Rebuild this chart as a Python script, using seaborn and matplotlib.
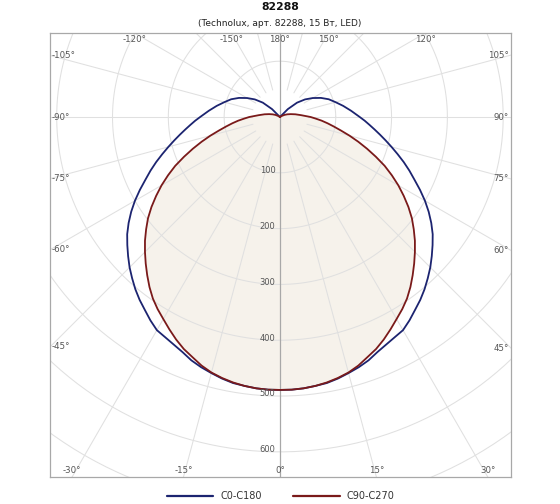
import numpy as np
import pandas as pd
import matplotlib
matplotlib.use("Agg")
import matplotlib.pyplot as plt
import seaborn as sns

# ------------------------------------------------------------------
# Data: luminous intensity (cd) vs gamma angle (deg)
# ------------------------------------------------------------------
gamma = np.array([0, 2.5, 5, 7.5, 10, 12.5, 15, 17.5, 20, 22.5, 25, 27.5,
                  30, 32.5, 35, 37.5, 40, 42.5, 45, 47.5, 50, 52.5, 55, 57.5,
                  60, 62.5, 65, 67.5, 70, 72.5, 75, 77.5, 80, 82.5, 85, 87.5,
                  90, 95, 100, 105, 110, 115, 120, 125, 130, 135, 140, 150,
                  160, 170, 180])

c0_c180 = [489, 489, 488, 486, 484, 480, 475, 470, 464, 456, 450, 445,
           441, 432, 422, 413, 403, 392, 381, 369, 357, 345, 331, 316,
           300, 283, 266, 251, 236, 221, 207, 194, 182, 171, 161, 152,
           143, 128, 115, 103, 93, 81, 68, 55, 40, 20, 0, 0,
           0, 0, 0]

c90_c270 = [489, 489, 488, 486, 483, 479, 474, 467, 458, 450, 440, 429,
            418, 408, 397, 384, 370, 356, 342, 328, 313, 298, 281, 263,
            245, 226, 207, 186, 166, 147, 129, 112, 98, 86, 75, 64,
            55, 38, 28, 20, 14, 9, 4, 0, 0, 0, 0, 0,
            0, 0, 0]

series_names = ["C0-C180", "C90-C270"]
series_colors = {"C0-C180": "#1c2470", "C90-C270": "#7a1a1a"}

radial_ticks = [100, 200, 300, 400, 500, 600]
title = "82288"
subtitle = "(Technolux, арт. 82288, 15 Вт, LED)"

# angle labels shown along the frame
angle_labels = [-30, -15, 0, 15, 30, -45, -60, -75, -90, -105,
                45, 60, 75, 90, 105, -120, -150, 180, 150, 120]

# ------------------------------------------------------------------
# Build polar -> cartesian table
# ------------------------------------------------------------------
def to_xy(vals):
    vals = np.asarray(vals, dtype=float)
    th = np.concatenate([-gamma[::-1], gamma[1:]])
    r = np.concatenate([vals[::-1], vals[1:]])
    t = np.deg2rad(th)
    return r * np.sin(t), -r * np.cos(t)

rows = []
for name, vals in zip(series_names, [c0_c180, c90_c270]):
    x, y = to_xy(vals)
    rows.append(pd.DataFrame({"x": x, "y": y, "curve": name}))
df = pd.concat(rows, ignore_index=True)

# ------------------------------------------------------------------
# Figure
# ------------------------------------------------------------------
sns.set_style("white")
plt.rcParams["font.family"] = ["DejaVu Sans"]

fig = plt.figure(figsize=(5.6, 5.04), dpi=100)
ax = fig.add_axes([50 / 560, 1 - 477 / 504, 461 / 560, 444 / 504])

xmin, xmax = -412, 414
ymin, ymax = -645, 150.5
ax.set_xlim(xmin, xmax)
ax.set_ylim(ymin, ymax)
ax.set_aspect("equal")
ax.set_xticks([])
ax.set_yticks([])
for s in ax.spines.values():
    s.set_color("#a8a8a8")
    s.set_linewidth(0.9)

grid_col = "#e0e0e0"
# circles
tt = np.linspace(0, 2 * np.pi, 400)
for r in range(100, 900, 100):
    ax.plot(r * np.cos(tt), r * np.sin(tt), color=grid_col, lw=0.75, zorder=1)
# rays
for a in range(-180, 180, 15):
    if a in (0, -180):
        continue
    t = np.deg2rad(a)
    ax.plot([50 * np.sin(t), 1000 * np.sin(t)], [-50 * np.cos(t), -1000 * np.cos(t)],
            color=grid_col, lw=0.75, zorder=1)
ax.axvline(0, color="#a8a8a8", lw=0.9, zorder=2)

# fill of C90-C270
fx, fy = to_xy(c90_c270)
ax.fill(fx, fy, color="#f6f2eb", zorder=0.5, lw=0)

sns.lineplot(data=df, x="x", y="y", hue="curve", palette=series_colors,
             sort=False, estimator=None, lw=1.3, ax=ax, zorder=3)
for line in ax.get_lines()[-2:]:
    line.set_solid_joinstyle("round")
ax.set_xlabel("")
ax.set_ylabel("")

# radial labels
for r in radial_ticks:
    ax.text(-8, -r + 4, str(r), ha="right", va="center", fontsize=6, color="#555555", zorder=4)

# angle labels on frame
pad = 3.5
for a in angle_labels:
    t = np.deg2rad(a)
    dx, dy = np.sin(t), -np.cos(t)
    cands = []
    if dx > 1e-9:
        cands.append((xmax / dx, "right"))
    if dx < -1e-9:
        cands.append((xmin / dx, "left"))
    if dy > 1e-9:
        cands.append((ymax / dy, "top"))
    if dy < -1e-9:
        cands.append((ymin / dy, "bottom"))
    k, side = min(cands)
    px, py = k * dx, k * dy
    txt = f"{a}°"
    if side == "left":
        ax.text(px + pad, py, txt, ha="left", va="center", fontsize=6.2, color="#555555")
    elif side == "right":
        ax.text(px - pad, py, txt, ha="right", va="center", fontsize=6.2, color="#555555")
    elif side == "top":
        ax.text(px, py - pad, txt, ha="center", va="top", fontsize=6.2, color="#555555")
    else:
        ax.text(px, py + pad, txt, ha="center", va="bottom", fontsize=6.2, color="#555555")

# titles
fig.text(280 / 560, 1 - 7.5 / 504, title, ha="center", va="center",
         fontsize=7.8, fontweight="bold", color="#111111")
fig.text(280 / 560, 1 - 23 / 504, subtitle, ha="center", va="center",
         fontsize=6.5, color="#222222")

# legend
sns.move_legend(ax, "center", bbox_to_anchor=(0.5, -0.043), ncol=2, frameon=False,
                title=None, fontsize=7, handlelength=4.8, handletextpad=0.7,
                columnspacing=3.2)
for line in ax.get_legend().get_lines():
    line.set_linewidth(1.6)
for t in ax.get_legend().get_texts():
    t.set_color("#333333")

plt.savefig("out.png", dpi=100)
